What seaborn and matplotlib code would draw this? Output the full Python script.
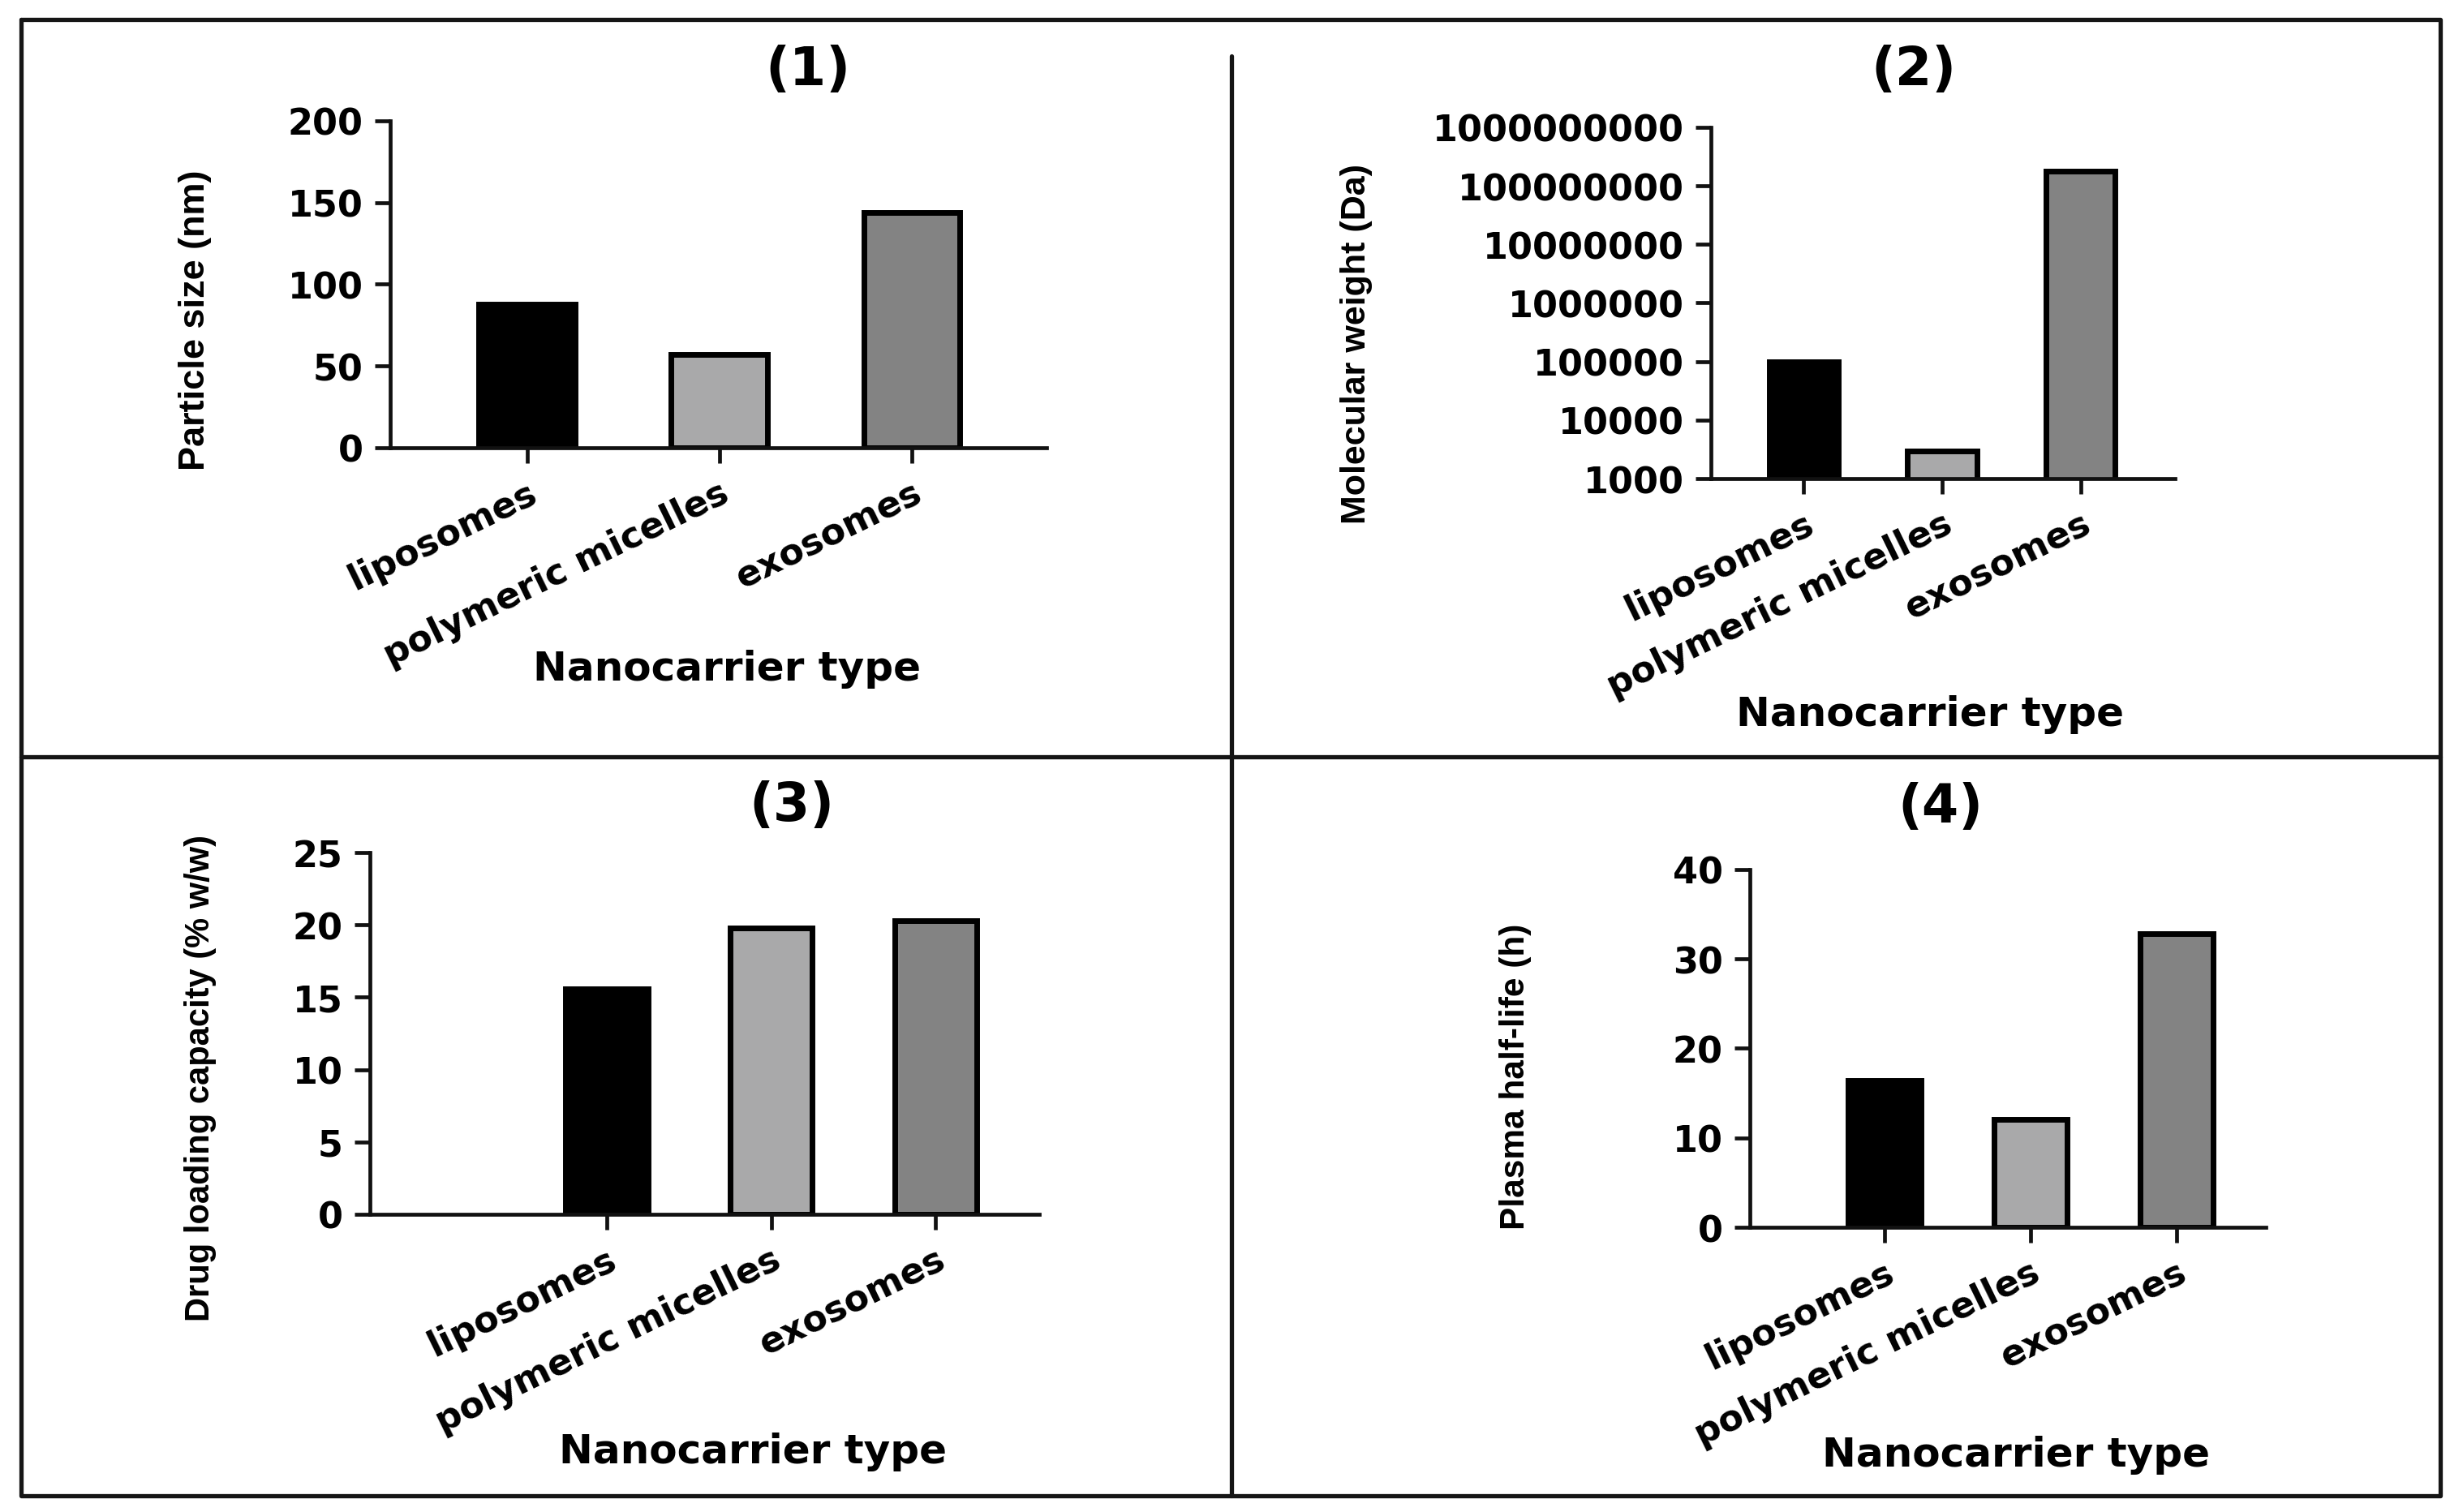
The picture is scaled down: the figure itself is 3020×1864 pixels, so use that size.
import matplotlib
matplotlib.use("Agg")
import matplotlib.pyplot as plt
from matplotlib.lines import Line2D
import seaborn as sns

# --- data ---
categories = ["liposomes", "polymeric micelles", "exosomes"]
particle_size = [88, 57, 144]              # nm
mol_weight = [100000, 3000, 180000000]     # Da
drug_loading = [15.6, 19.8, 20.3]          # % w/w
half_life = [16.4, 12.1, 32.8]             # h

bar_colors = ["#000000", "#a9a9aa", "#838383"]

sns.set_style("ticks")
plt.rcParams["font.family"] = ["DejaVu Sans"]
plt.rcParams["font.weight"] = "bold"
for key in ["text.color", "axes.labelcolor", "xtick.color", "ytick.color"]:
    plt.rcParams[key] = "black"

LW = 3.4
ARIAL = ["Liberation Sans", "DejaVu Sans"]

fig = plt.figure(figsize=(30.2, 18.65), dpi=100)


def draw_panel(rect, values, ylabel, title, title_xy, xlim, ylab_xy, ylab_size, xlab_xy,
               log=False, yticks=None):
    ax = fig.add_axes(rect)
    sns.barplot(x=categories, y=values, hue=categories, palette=bar_colors, legend=False,
                width=0.5, edgecolor="black", linewidth=5, saturation=1, ax=ax)
    if log:
        ax.set_yscale("log")
        ax.set_ylim(1000, 1e9)
        ax.set_yticks(yticks)
        ax.set_yticklabels([str(int(t)) for t in yticks])
        ax.minorticks_off()
    else:
        ax.set_yticks(yticks)
        ax.set_ylim(yticks[0], yticks[-1])
    ax.set_xlim(*xlim)
    sns.despine(ax=ax)
    for s in ["left", "bottom"]:
        ax.spines[s].set_linewidth(LW)
        ax.spines[s].set_color("#111111")
    ax.tick_params(axis="both", length=14, width=LW, color="#111111", pad=10)
    ax.tick_params(axis="y", labelsize=32)
    ax.set_xticks(range(len(categories)))
    ax.set_xticklabels(categories, rotation=26, ha="right", va="top",
                       rotation_mode="anchor", fontsize=32, fontweight="bold")
    for lab in ax.get_yticklabels():
        lab.set_fontweight("bold")

    ax.set_xlabel("Nanocarrier type", fontsize=36, fontweight="bold")
    ax.xaxis.set_label_coords(*xlab_xy)
    ax.xaxis.label.set_va("top")

    ax.set_ylabel(ylabel, fontsize=ylab_size, fontweight="bold", family=ARIAL)
    ax.yaxis.set_label_coords(*ylab_xy)
    ax.yaxis.label.set_va("center")

    fig.text(title_xy[0], title_xy[1], title, fontsize=47, fontweight="bold",
             ha="center", va="center")
    return ax


draw_panel([0.1593, 0.7035, 0.2679, 0.2161], particle_size, "Particle size (nm)", "(1)",
           (0.3298, 0.9534), (-0.71, 2.7), (-0.297, 0.392), 32.5, (0.513, -0.615),
           yticks=[0, 50, 100, 150, 200])

draw_panel([0.6983, 0.6831, 0.1894, 0.2322], mol_weight, "Molecular weight (Da)", "(2)",
           (0.7811, 0.9534), (-0.67, 2.68), (-0.764, 0.386), 31, (0.472, -0.614),
           log=True, yticks=[1e3, 1e4, 1e5, 1e6, 1e7, 1e8, 1e9])

draw_panel([0.151, 0.1968, 0.2732, 0.2391], drug_loading, "Drug loading capacity (% w/w)", "(3)",
           (0.3232, 0.467), (-1.44, 2.63), (-0.253, 0.379), 30, (0.572, -0.601),
           yticks=[0, 5, 10, 15, 20, 25])

draw_panel([0.7142, 0.1882, 0.2106, 0.2365], half_life, "Plasma half-life (h)", "(4)",
           (0.7921, 0.466), (-0.92, 2.61), (-0.454, 0.424), 30.5, (0.516, -0.58),
           yticks=[0, 10, 20, 30, 40])

# --- panel frame and dividers ---
W, H = 3020, 1865
left, right, top, bottom = 26 / W, 3008 / W, 1 - 25 / H, 1 - 1845 / H
vx, hy = 1518 / W, 1 - 934 / H
frame_kw = dict(color="#151515", linewidth=3.8, transform=fig.transFigure)
fig.add_artist(Line2D([left, right, right, left, left], [top, top, bottom, bottom, top], **frame_kw))
fig.add_artist(Line2D([vx, vx], [1 - 70 / H, bottom], **frame_kw))
fig.add_artist(Line2D([left, right], [hy, hy], **frame_kw))

fig.savefig("out.png", dpi=100, facecolor="white")
